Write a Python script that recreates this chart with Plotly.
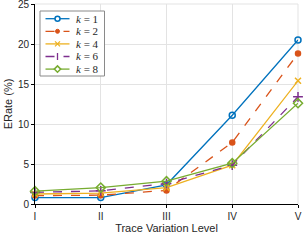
import plotly.graph_objects as go

levels = ["I", "II", "III", "IV", "V"]
k1 = [0.8, 0.8, 2.4, 11.1, 20.5]
k2 = [1.05, 1.1, 1.7, 7.7, 18.8]
k4 = [1.25, 1.35, 2.05, 4.85, 15.4]
k6 = [1.45, 1.65, 2.55, 4.85, 13.4]
k8 = [1.6, 2.05, 2.85, 5.1, 12.6]
names = ["1", "2", "4", "6", "8"]
yticks = [0, 5, 10, 15, 20, 25]

colors = ["#0072BD", "#D95319", "#EDB120", "#7E2F8E", "#77AC30"]
dashes = ["solid", "dash", "solid", "dash", "solid"]
symbols = ["circle-open", "circle", "x-thin-open", "cross-thin-open", "diamond-open"]
sizes = [6, 5, 6, 7, 7]

W, H = 305, 240
L, R, T, B = 35, 7, 4, 36
PW, PH = W - L - R, H - T - B


def px(x):
    return (x - L) / PW


def py(y):
    return (H - B - y) / PH


fig = go.Figure()
for name, vals, col, dash, sym, sz in zip(names, [k1, k2, k4, k6, k8], colors, dashes, symbols, sizes):
    fig.add_trace(go.Scatter(
        x=levels, y=vals, name="k = " + name, mode="lines+markers",
        line=dict(color=col, width=1.3, dash=dash),
        marker=dict(symbol=sym, size=sz, color=col, line=dict(color=col, width=1.5)),
        showlegend=False, cliponaxis=False,
    ))

# compact custom legend (MATLAB style)
shapes = []
annotations = []
shapes.append(dict(type="rect", xref="paper", yref="paper",
                   x0=px(40), x1=px(104.5), y0=py(11), y1=py(76),
                   line=dict(color="#8a8a8a", width=1), fillcolor="white", layer="above"))
for i, (name, col, dash) in enumerate(zip(names, colors, dashes)):
    yc = 18.7 + i * 12.6
    shapes.append(dict(type="line", xref="paper", yref="paper",
                       x0=px(45.5), x1=px(69.5), y0=py(yc), y1=py(yc),
                       line=dict(color=col, width=1.3, dash=dash), layer="above"))
    cx = 57.5
    if i == 0:
        shapes.append(dict(type="circle", xref="paper", yref="paper",
                           x0=px(cx - 2.5), x1=px(cx + 2.5), y0=py(yc + 2.5), y1=py(yc - 2.5),
                           line=dict(color=col, width=1.5), fillcolor="white", layer="above"))
    elif i == 1:
        shapes.append(dict(type="circle", xref="paper", yref="paper",
                           x0=px(cx - 2), x1=px(cx + 2), y0=py(yc + 2), y1=py(yc - 2),
                           line=dict(color=col, width=1), fillcolor=col, layer="above"))
    elif i == 2:
        for s in (1, -1):
            shapes.append(dict(type="line", xref="paper", yref="paper",
                               x0=px(cx - 2.5), x1=px(cx + 2.5), y0=py(yc - 2.5 * s), y1=py(yc + 2.5 * s),
                               line=dict(color=col, width=1.3), layer="above"))
    elif i == 3:
        shapes.append(dict(type="line", xref="paper", yref="paper",
                           x0=px(cx), x1=px(cx), y0=py(yc - 3.5), y1=py(yc + 3.5),
                           line=dict(color=col, width=1.3), layer="above"))
    else:
        d = 3.2
        path = "M {} {} L {} {} L {} {} L {} {} Z".format(
            px(cx - d), py(yc), px(cx), py(yc - d), px(cx + d), py(yc), px(cx), py(yc + d))
        shapes.append(dict(type="path", xref="paper", yref="paper", path=path,
                           line=dict(color=col, width=1.5), fillcolor="white", layer="above"))
    annotations.append(dict(xref="paper", yref="paper", x=px(74), y=py(yc),
                            xanchor="left", yanchor="middle", showarrow=False,
                            text="<i>k</i> = " + name,
                            font=dict(family="Liberation Serif, DejaVu Serif, serif", size=11, color="#262626")))

# light box on top/right
shapes.append(dict(type="line", xref="paper", yref="paper", x0=0, x1=1, y0=1, y1=1,
                   line=dict(color="#e3e3e3", width=1), layer="below"))
shapes.append(dict(type="line", xref="paper", yref="paper", x0=1, x1=1, y0=0, y1=1,
                   line=dict(color="#e3e3e3", width=1), layer="below"))

font = "Liberation Sans, Arial, sans-serif"
fig.update_layout(
    width=W, height=H,
    margin=dict(l=L, r=R, t=T, b=B, autoexpand=False),
    paper_bgcolor="white", plot_bgcolor="white",
    font=dict(family=font, size=10, color="#262626"),
    showlegend=False,
    shapes=shapes, annotations=annotations,
    xaxis=dict(
        type="category", range=[0, 4],
        showgrid=True, gridcolor="#e3e3e3", gridwidth=1,
        showline=True, linecolor="black", linewidth=1,
        ticks="outside", ticklen=3, tickcolor="black",
        zeroline=False, automargin=False, ticklabeloverflow="allow",
        title=dict(text="Trace Variation Level", standoff=3, font=dict(size=11)),
        tickfont=dict(size=10),
    ),
    yaxis=dict(
        range=[0, 25], tickmode="array", tickvals=yticks,
        ticktext=[str(v) for v in yticks],
        showgrid=True, gridcolor="#e3e3e3", gridwidth=1,
        showline=True, linecolor="black", linewidth=1,
        ticks="outside", ticklen=3, tickcolor="black",
        zeroline=False, automargin=False, ticklabeloverflow="allow",
        title=dict(text="ERate (%)", standoff=3, font=dict(size=11)),
        tickfont=dict(size=10),
    ),
)

fig.write_html("out.html", config={"displayModeBar": False},
               post_script="document.body.style.margin='0';")
